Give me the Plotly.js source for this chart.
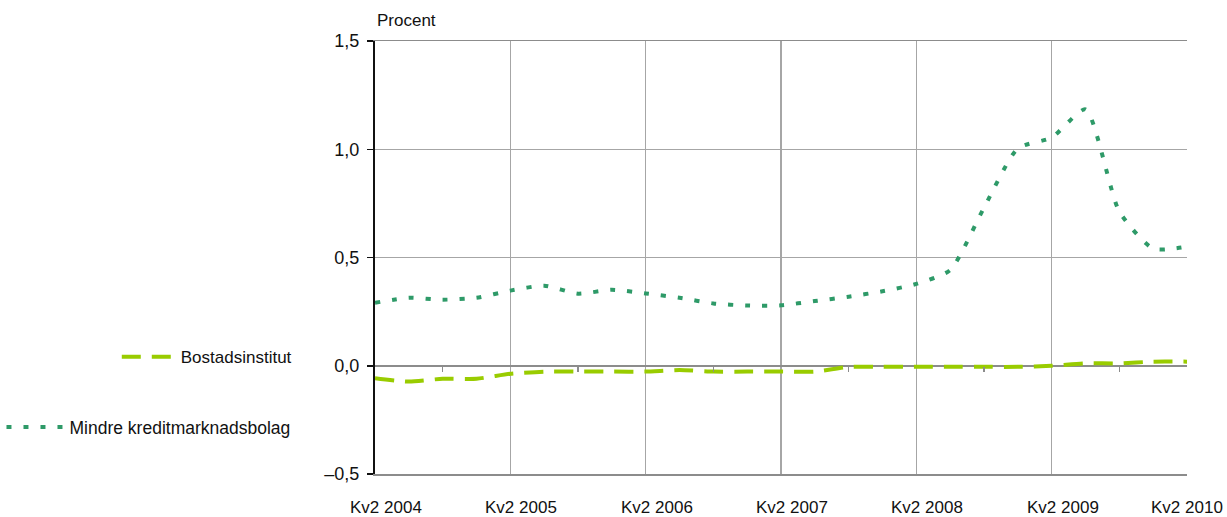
<!DOCTYPE html>
<html>
<head>
<meta charset="utf-8">
<script src="https://cdn.plot.ly/plotly-3.0.1.min.js"></script>
<style>html,body{margin:0;padding:0;background:#fff;}#chart{width:1227px;height:517px;}</style>
</head>
<body>
<div id="chart"></div>
<script>
const quarters = [
  "Kv2 2004","Kv3 2004","Kv4 2004","Kv1 2005",
  "Kv2 2005","Kv3 2005","Kv4 2005","Kv1 2006",
  "Kv2 2006","Kv3 2006","Kv4 2006","Kv1 2007",
  "Kv2 2007","Kv3 2007","Kv4 2007","Kv1 2008",
  "Kv2 2008","Kv3 2008","Kv4 2008","Kv1 2009",
  "Kv2 2009","Kv3 2009","Kv4 2009","Kv1 2010",
  "Kv2 2010"
];
const bostadsinstitut = [
  -0.058,-0.073,-0.060,-0.060,
  -0.037,-0.027,-0.027,-0.027,
  -0.027,-0.020,-0.027,-0.027,
  -0.027,-0.027,-0.005,-0.005,
  -0.005,-0.005,-0.005,-0.005,
   0.000, 0.011, 0.011, 0.019,
   0.019
];
const mindreKreditmarknadsbolag = [
  0.291,0.314,0.305,0.314,
  0.347,0.370,0.333,0.351,
  0.334,0.314,0.288,0.278,
  0.279,0.299,0.319,0.344,
  0.378,0.442,0.730,1.004,
  1.054,1.184,0.712,0.541,
  0.550
];
const seriesNames = ["Bostadsinstitut","Mindre kreditmarknadsbolag"];
const majorTicks = ["Kv2 2004","Kv2 2005","Kv2 2006","Kv2 2007","Kv2 2008","Kv2 2009","Kv2 2010"];
const minorTicks = ["Kv4 2004","Kv4 2005","Kv4 2006","Kv4 2007","Kv4 2008","Kv4 2009"];
const yTickVals = [-0.5,0,0.5,1,1.5];
const yTickText = ["\u20130,5","0,0","0,5","1,0","1,5"];

const FONT = '"Liberation Sans","Arial",sans-serif';
const TXT = '#111';

const traces = [
  {
    x: quarters, y: mindreKreditmarknadsbolag, name: seriesNames[1],
    type: 'scatter', mode: 'lines', xaxis: 'x', yaxis: 'y',
    line: {color: '#2e9a68', width: 4, dash: '5px,12px', shape: 'spline', smoothing: 0.6},
    legend: 'legend2'
  },
  {
    x: quarters, y: bostadsinstitut, name: seriesNames[0],
    type: 'scatter', mode: 'lines', xaxis: 'x2', yaxis: 'y',
    line: {color: '#99cc00', width: 4, dash: '19px,11px', shape: 'spline', smoothing: 0.6},
    legend: 'legend'
  }
];

// x tick labels drawn as annotations so they can sit slightly right of their gridline
const tickLabelAnnotations = majorTicks.map((q, i) => ({
  text: q, xref: 'x', yref: 'paper', x: q, y: 0,
  xanchor: 'center', yanchor: 'top', yshift: -22,
  xshift: i === majorTicks.length - 1 ? 0 : 11,
  showarrow: false, font: {family: FONT, size: 17, color: TXT}
}));

const layout = {
  width: 1227, height: 517,
  margin: {l: 375, r: 40, t: 41, b: 43, autoexpand: false},
  paper_bgcolor: '#fff', plot_bgcolor: '#fff',
  font: {family: FONT, size: 17, color: TXT},
  showlegend: true,
  xaxis: {
    type: 'category', range: [0, 24],
    categoryorder: 'array', categoryarray: quarters,
    tickvals: majorTicks, showticklabels: false,
    showgrid: true, gridcolor: '#a6a6a6', gridwidth: 1.5,
    showline: true, linecolor: '#8c8c8c', linewidth: 1.5, mirror: true,
    ticks: '', zeroline: false
  },
  xaxis2: {
    type: 'category', range: [0, 24], overlaying: 'x', anchor: 'free', position: 0.25,
    categoryorder: 'array', categoryarray: quarters,
    tickvals: minorTicks, ticks: 'outside', ticklen: 5, tickwidth: 1.5, tickcolor: '#8c8c8c',
    showticklabels: false, showgrid: false, showline: false, zeroline: false
  },
  yaxis: {
    range: [-0.5, 1.5], tickvals: yTickVals, ticktext: yTickText,
    showgrid: true, gridcolor: '#a6a6a6', gridwidth: 1.5,
    zeroline: true, zerolinecolor: '#8c8c8c', zerolinewidth: 2,
    showline: true, linecolor: '#111', linewidth: 2,
    ticks: 'outside', ticklen: 6, tickwidth: 1.5, tickcolor: '#111',
    ticklabelstandoff: 4,
    tickfont: {family: FONT, size: 18, color: TXT}
  },
  legend: {
    x: -0.318, y: 0.27, xanchor: 'left', yanchor: 'middle',
    bgcolor: 'rgba(0,0,0,0)', font: {family: FONT, size: 17, color: TXT},
    itemwidth: 54
  },
  legend2: {
    x: -0.46, y: 0.1085, xanchor: 'left', yanchor: 'middle',
    bgcolor: 'rgba(0,0,0,0)', font: {family: FONT, size: 17.5, color: TXT},
    itemwidth: 58
  },
  annotations: [{
    text: 'Procent', xref: 'paper', yref: 'paper', x: 0, y: 1,
    xanchor: 'left', yanchor: 'bottom', yshift: 9, showarrow: false,
    font: {family: FONT, size: 17, color: TXT}
  }].concat(tickLabelAnnotations)
};

Plotly.newPlot('chart', traces, layout, {displayModeBar: false, staticPlot: true});
</script>
</body>
</html>
